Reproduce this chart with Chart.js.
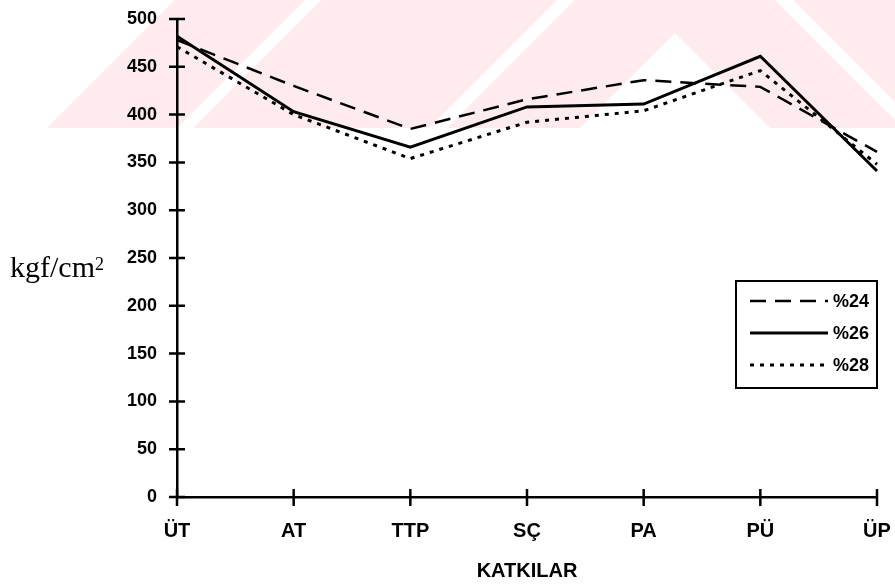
<!DOCTYPE html>
<html>
<head>
<meta charset="utf-8">
<title>Katkılar</title>
<script src="https://cdn.jsdelivr.net/npm/chart.js@4.4.0/dist/chart.umd.min.js"></script>
<style>
  html, body { margin: 0; padding: 0; background: #fff; }
  #kutu { position: relative; width: 895px; height: 585px; }
  #birim {
    position: absolute; left: 10px; top: 252px;
    font: 30px 'Liberation Serif', 'Times New Roman', serif;
    line-height: 30px; color: #000; white-space: nowrap;
  }
  #birim sup { font-size: 18px; position: relative; top: -7px; vertical-align: baseline; }
</style>
</head>
<body>
<div id="kutu">
  <canvas id="katkiChart" width="895" height="585"></canvas>
  <div id="birim">kgf/cm<sup>2</sup></div>
</div>
<script>
// katkı türleri ve üç oran için ölçülen değerler (kgf/cm2)
const katkilar = ['ÜT', 'AT', 'TTP', 'SÇ', 'PA', 'PÜ', 'ÜP'];
const seri24 = [478, 430, 385, 416, 436, 429, 361];
const seri26 = [482, 403, 366, 408, 411, 461, 341];
const seri28 = [471, 400, 354, 392, 404, 446, 348];
const seriAdlari = ['%24', '%26', '%28'];
const yEksen = { min: 0, max: 500, adim: 50 };

const kalin = (s) => ({ family: "'Liberation Sans', Arial, sans-serif", size: s, weight: 'bold' });

// arka plandaki soluk pembe şeritler
const filigran = {
  id: 'filigran',
  beforeDraw(chart) {
    const ctx = chart.ctx;
    const alt = 128, tepeX = 675;
    const pembe = 'rgb(253,235,238)';
    const katmanlar = [
      [-500, pembe],
      [-370, '#fff'],
      [-354, pembe],
      [-118, '#fff'],
      [-100, pembe],
      [33, '#fff']
    ];
    ctx.save();
    ctx.beginPath();
    ctx.rect(0, 0, chart.width, alt);
    ctx.clip();
    katmanlar.forEach(([tepe, renk]) => {
      const yari = alt - tepe;
      ctx.fillStyle = renk;
      ctx.beginPath();
      ctx.moveTo(tepeX, tepe);
      ctx.lineTo(tepeX + yari, alt);
      ctx.lineTo(tepeX - yari, alt);
      ctx.closePath();
      ctx.fill();
    });
    ctx.restore();
  }
};

// eksenleri kesen çentikler
const centikler = {
  id: 'centikler',
  afterDatasetsDraw(chart) {
    const { ctx, scales: { x, y } } = chart;
    ctx.save();
    ctx.strokeStyle = '#000';
    ctx.lineWidth = 2.5;
    ctx.beginPath();
    x.ticks.forEach((t, i) => {
      const px = x.getPixelForTick(i);
      ctx.moveTo(px, y.bottom - 8);
      ctx.lineTo(px, y.bottom + 9);
    });
    y.ticks.forEach((t, i) => {
      const py = y.getPixelForTick(i);
      ctx.moveTo(x.left - 8, py);
      ctx.lineTo(x.left + 8, py);
    });
    ctx.stroke();
    ctx.restore();
  }
};

// çerçeveli açıklama kutusu
const aciklama = {
  id: 'aciklama',
  afterDraw(chart) {
    const ctx = chart.ctx;
    const kx = 736, ky = 281, kg = 141, kh = 107;
    ctx.save();
    ctx.strokeStyle = '#000';
    ctx.lineWidth = 2;
    ctx.strokeRect(kx, ky, kg, kh);
    ctx.font = "bold 18px 'Liberation Sans', Arial, sans-serif";
    ctx.fillStyle = '#000';
    ctx.textAlign = 'right';
    ctx.textBaseline = 'middle';
    chart.data.datasets.forEach((ds, i) => {
      const sy = ky + 20 + i * 32;
      ctx.beginPath();
      ctx.lineWidth = ds.borderWidth;
      ctx.lineCap = 'butt';
      ctx.setLineDash(ds.borderDash || []);
      ctx.moveTo(750, sy);
      ctx.lineTo(828, sy);
      ctx.stroke();
      ctx.setLineDash([]);
      ctx.fillText(ds.label, 869, sy + 1);
    });
    ctx.restore();
  }
};

const ctx = document.getElementById('katkiChart').getContext('2d');
const chart = new Chart(ctx, {
  type: 'line',
  data: {
    labels: katkilar,
    datasets: [
      { label: seriAdlari[0], data: seri24, borderColor: '#000', borderWidth: 2.5, borderDash: [16, 9] },
      { label: seriAdlari[1], data: seri26, borderColor: '#000', borderWidth: 3 },
      { label: seriAdlari[2], data: seri28, borderColor: '#000', borderWidth: 3, borderDash: [4, 6] }
    ]
  },
  options: {
    responsive: false,
    animation: false,
    devicePixelRatio: 1,
    layout: { padding: { top: 19, right: 18, bottom: 0, left: 0 } },
    elements: {
      point: { radius: 0, hoverRadius: 0 },
      line: { tension: 0, fill: false, borderCapStyle: 'butt' }
    },
    plugins: {
      legend: { display: false },
      tooltip: { enabled: false }
    },
    scales: {
      x: {
        offset: false,
        grid: { display: false, drawTicks: false },
        border: { display: true, color: '#000', width: 2.5 },
        ticks: { color: '#000', font: kalin(20), padding: 22, maxRotation: 0, autoSkip: false },
        title: { display: true, text: 'KATKILAR', color: '#000', font: kalin(20), padding: { top: 0, bottom: 2 } },
        afterFit: (s) => { s.height = 88; s.paddingLeft = 0; s.paddingRight = 0; }
      },
      y: {
        min: yEksen.min,
        max: yEksen.max,
        grid: { display: false, drawTicks: false },
        border: { display: true, color: '#000', width: 2.5 },
        ticks: { stepSize: yEksen.adim, color: '#000', font: kalin(18), padding: 20 },
        afterFit: (s) => { s.width = 177; s.paddingTop = 0; s.paddingBottom = 0; }
      }
    }
  },
  plugins: [filigran, centikler, aciklama]
});
</script>
</body>
</html>
